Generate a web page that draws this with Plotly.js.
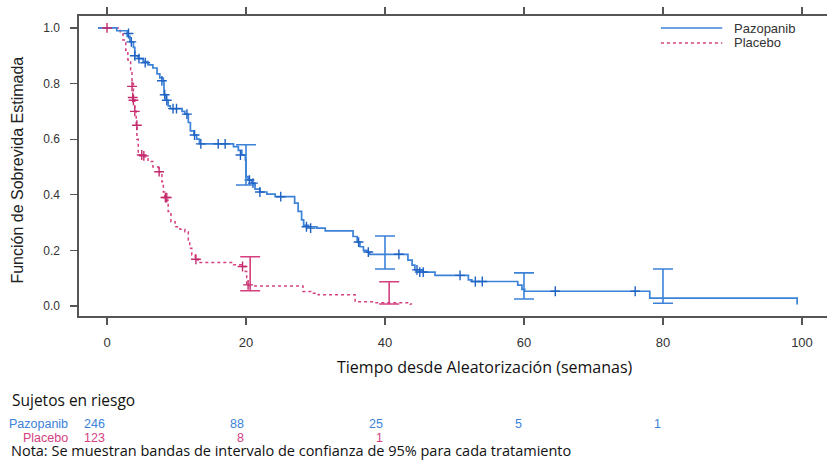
<!DOCTYPE html>
<html>
<head>
<meta charset="utf-8">
<script src="https://cdn.plot.ly/plotly-3.0.1.min.js"></script>
<style>html,body{margin:0;padding:0;background:#fff;}#chart{width:827px;height:460px;}</style>
</head>
<body>
<div id="chart"></div>
<script>
// Kaplan-Meier step data
const pazoTime = [-1.3, 1.4, 2.9, 3.3, 3.8, 4.0, 4.5, 5.2, 5.9, 6.6, 7.2, 7.6, 8.1, 8.2, 8.5, 8.8, 9.1, 10.8, 11.2, 11.7, 12.0, 12.5, 12.9, 13.3, 18.2, 18.9, 19.4, 19.9, 20.0, 20.3, 20.8, 21.3, 22.0, 23.0, 24.2, 27.0, 27.5, 28.0, 28.3, 29.0, 30.2, 31.4, 35.4, 36.0, 36.4, 36.9, 37.4, 37.8, 43.3, 43.9, 44.3, 45.5, 47.2, 52.0, 52.5, 59.1, 59.7, 60.1, 78.1, 99.3];
const pazoSurv = [1.0, 0.99, 0.97, 0.95, 0.93, 0.90, 0.89, 0.879, 0.867, 0.856, 0.835, 0.82, 0.81, 0.76, 0.74, 0.72, 0.71, 0.70, 0.69, 0.66, 0.63, 0.615, 0.60, 0.583, 0.573, 0.56, 0.543, 0.525, 0.465, 0.453, 0.442, 0.42, 0.41, 0.402, 0.393, 0.37, 0.34, 0.31, 0.29, 0.285, 0.28, 0.27, 0.25, 0.23, 0.213, 0.20, 0.194, 0.186, 0.165, 0.147, 0.13, 0.122, 0.11, 0.094, 0.088, 0.075, 0.06, 0.053, 0.028, 0.005];
const placTime = [-1.3, 1.9, 2.3, 2.7, 3.0, 3.4, 3.6, 3.8, 4.0, 4.2, 4.3, 4.5, 4.7, 5.2, 5.9, 6.6, 7.4, 7.9, 8.1, 8.3, 8.8, 9.2, 9.8, 10.5, 11.2, 11.7, 11.9, 12.2, 12.7, 13.1, 18.2, 19.4, 19.9, 20.1, 20.6, 28.2, 29.7, 30.4, 35.7, 38.3, 43.6, 43.9];
const placSurv = [1.0, 0.986, 0.957, 0.92, 0.885, 0.85, 0.80, 0.75, 0.70, 0.65, 0.60, 0.55, 0.543, 0.537, 0.52, 0.50, 0.483, 0.447, 0.41, 0.38, 0.34, 0.303, 0.285, 0.276, 0.267, 0.237, 0.208, 0.183, 0.168, 0.156, 0.148, 0.142, 0.124, 0.076, 0.072, 0.052, 0.046, 0.04, 0.015, 0.012, 0.007, 0.007];

// censored observations
const pazoCensT = [3.1, 3.5, 4.0, 4.6, 5.5, 7.9, 8.3, 8.6, 9.5, 10.0, 11.5, 12.6, 13.5, 16.0, 17.0, 19.2, 20.5, 21.0, 22.0, 25.0, 28.7, 29.3, 36.2, 37.6, 42.0, 44.6, 45.0, 45.5, 50.8, 53.0, 54.0, 64.5, 76.0];
const pazoCensS = [0.98, 0.95, 0.90, 0.89, 0.875, 0.81, 0.76, 0.74, 0.71, 0.71, 0.69, 0.615, 0.583, 0.583, 0.583, 0.543, 0.453, 0.442, 0.41, 0.393, 0.285, 0.28, 0.23, 0.194, 0.186, 0.13, 0.122, 0.122, 0.11, 0.088, 0.088, 0.053, 0.053];
const placCensT = [0.0, 3.6, 3.7, 3.8, 4.0, 4.3, 5.0, 5.3, 7.5, 8.4, 8.6, 12.8, 19.5, 20.3];
const placCensS = [1.0, 0.79, 0.75, 0.74, 0.70, 0.65, 0.543, 0.54, 0.483, 0.39, 0.39, 0.168, 0.142, 0.076];

// 95% CI bands
const pazoCiX = [20, 40, 60, 80];
const pazoCiMid = [0.50, 0.19, 0.07, 0.07];
const pazoCiUp = [0.58, 0.252, 0.119, 0.133];
const pazoCiLo = [0.435, 0.133, 0.025, 0.01];
const placCiX = [20.6, 40.6];
const placCiMid = [0.12, 0.05];
const placCiUp = [0.177, 0.087];
const placCiLo = [0.055, 0.007];

// risk table
const riskTimes = [0, 20, 40, 60, 80];
const pazoRisk = ['246', '88', '25', '5', '1'];
const placRisk = ['123', '8', '1'];
const xTicks = [0, 20, 40, 60, 80, 100];
const yTicks = [0, 0.2, 0.4, 0.6, 0.8, 1.0];

const BLUE = '#3b82d8';
const BLUE_D = '#1f62c4';
const PINK = '#d4407f';
const PINK_D = '#c42a6c';
const AXC = '#555555';
const TXT = '#333333';
const numFont = 'Liberation Sans Narrow, Liberation Sans, Arial, sans-serif';
const sansFont = 'Liberation Sans, Arial, sans-serif';
const calFont = 'Open Sans, Noto Sans, sans-serif';

function ci(x, mid, up, lo, color) {
  return {
    x: x, y: mid, type: 'scatter', mode: 'markers',
    marker: {size: 1, color: 'rgba(0,0,0,0)'},
    error_y: {type: 'data', symmetric: false,
      array: up.map((u, i) => u - mid[i]),
      arrayminus: lo.map((l, i) => mid[i] - l),
      width: 10, thickness: 1.6, color: color},
    showlegend: false, hoverinfo: 'skip'
  };
}

const traces = [
  {x: placTime, y: placSurv, type: 'scatter', mode: 'lines', line: {shape: 'hv', color: PINK, width: 1.5, dash: 'dot'}, showlegend: false},
  {x: pazoTime, y: pazoSurv, type: 'scatter', mode: 'lines', line: {shape: 'hv', color: BLUE, width: 1.7}, showlegend: false},
  {x: pazoCensT, y: pazoCensS, type: 'scatter', mode: 'markers', marker: {symbol: 'cross-thin-open', size: 7, line: {width: 1.4, color: BLUE_D}, color: BLUE_D}, showlegend: false},
  {x: placCensT, y: placCensS, type: 'scatter', mode: 'markers', marker: {symbol: 'cross-thin-open', size: 7, line: {width: 1.4, color: PINK_D}, color: PINK_D}, showlegend: false},
  ci(pazoCiX, pazoCiMid, pazoCiUp, pazoCiLo, BLUE),
  ci(placCiX, placCiMid, placCiUp, placCiLo, PINK)
];

const annotations = [];
// axis titles
annotations.push({text: 'Función de Sobrevida Estimada', xref: 'paper', yref: 'paper', x: -0.082, y: 0.487, textangle: -90, showarrow: false, xanchor: 'center', yanchor: 'middle', font: {family: sansFont, size: 16, color: '#222'}});
annotations.push({text: 'Tiempo desde Aleatorización (semanas)', xref: 'paper', yref: 'paper', x: 0.543, y: -0.17, showarrow: false, xanchor: 'center', yanchor: 'middle', font: {family: calFont, size: 16, color: '#111'}});
annotations.push({text: 'Sujetos en riesgo', xref: 'paper', yref: 'paper', x: -0.092, y: -0.28, showarrow: false, xanchor: 'left', yanchor: 'middle', font: {family: calFont, size: 15.5, color: '#111'}});
annotations.push({text: 'Pazopanib', xref: 'paper', yref: 'paper', x: -0.012, y: -0.36, showarrow: false, xanchor: 'right', yanchor: 'middle', font: {family: sansFont, size: 12.5, color: BLUE}});
annotations.push({text: 'Placebo', xref: 'paper', yref: 'paper', x: -0.012, y: -0.405, showarrow: false, xanchor: 'right', yanchor: 'middle', font: {family: sansFont, size: 12.5, color: PINK}});
pazoRisk.forEach((v, i) => annotations.push({text: v, xref: 'x', yref: 'paper', x: riskTimes[i], y: -0.36, showarrow: false, xanchor: 'right', yanchor: 'middle', font: {family: sansFont, size: 12.5, color: BLUE}}));
placRisk.forEach((v, i) => annotations.push({text: v, xref: 'x', yref: 'paper', x: riskTimes[i], y: -0.405, showarrow: false, xanchor: 'right', yanchor: 'middle', font: {family: sansFont, size: 12.5, color: PINK}}));
annotations.push({text: 'Nota: Se muestran bandas de intervalo de confianza de 95% para cada tratamiento', xref: 'paper', yref: 'paper', x: -0.094, y: -0.4467, showarrow: false, xanchor: 'left', yanchor: 'middle', font: {family: calFont, size: 14.5, color: '#111'}});
// legend
annotations.push({text: 'Pazopanib', xref: 'paper', yref: 'paper', x: 0.873, y: 0.96, showarrow: false, xanchor: 'left', yanchor: 'middle', font: {family: sansFont, size: 13, color: TXT}});
annotations.push({text: 'Placebo', xref: 'paper', yref: 'paper', x: 0.873, y: 0.91, showarrow: false, xanchor: 'left', yanchor: 'middle', font: {family: sansFont, size: 13, color: TXT}});

const shapes = [
  {type: 'line', xref: 'paper', yref: 'paper', x0: 0.778, x1: 0.860, y0: 0.96, y1: 0.96, line: {color: BLUE, width: 1.7}},
  {type: 'line', xref: 'paper', yref: 'paper', x0: 0.778, x1: 0.860, y0: 0.91, y1: 0.91, line: {color: PINK, width: 1.5, dash: 'dot'}}
];

const layout = {
  width: 827, height: 460,
  margin: {l: 79, r: 0, t: 16, b: 144},
  paper_bgcolor: '#fff', plot_bgcolor: '#fff',
  showlegend: false,
  xaxis: {range: [-4.03, 103.6], tickvals: xTicks, ticktext: xTicks.map(String), ticks: 'outside', ticklen: 7, tickwidth: 1.3, tickcolor: AXC,
    showline: true, linecolor: AXC, linewidth: 1.6, mirror: 'ticks', showgrid: false, zeroline: false,
    tickfont: {family: numFont, size: 13, color: TXT}, ticklabelstandoff: 7},
  yaxis: {range: [-0.036, 1.043], tickvals: yTicks, ticktext: yTicks.map(v => v.toFixed(1)), ticks: 'outside', ticklen: 7, tickwidth: 1.3, tickcolor: AXC,
    showline: true, linecolor: AXC, linewidth: 1.6, showgrid: false, zeroline: false,
    tickfont: {family: sansFont, size: 12, color: TXT}, ticklabelstandoff: 8},
  annotations: annotations,
  shapes: shapes
};

Plotly.newPlot('chart', traces, layout, {staticPlot: true, displayModeBar: false});
</script>
</body>
</html>
